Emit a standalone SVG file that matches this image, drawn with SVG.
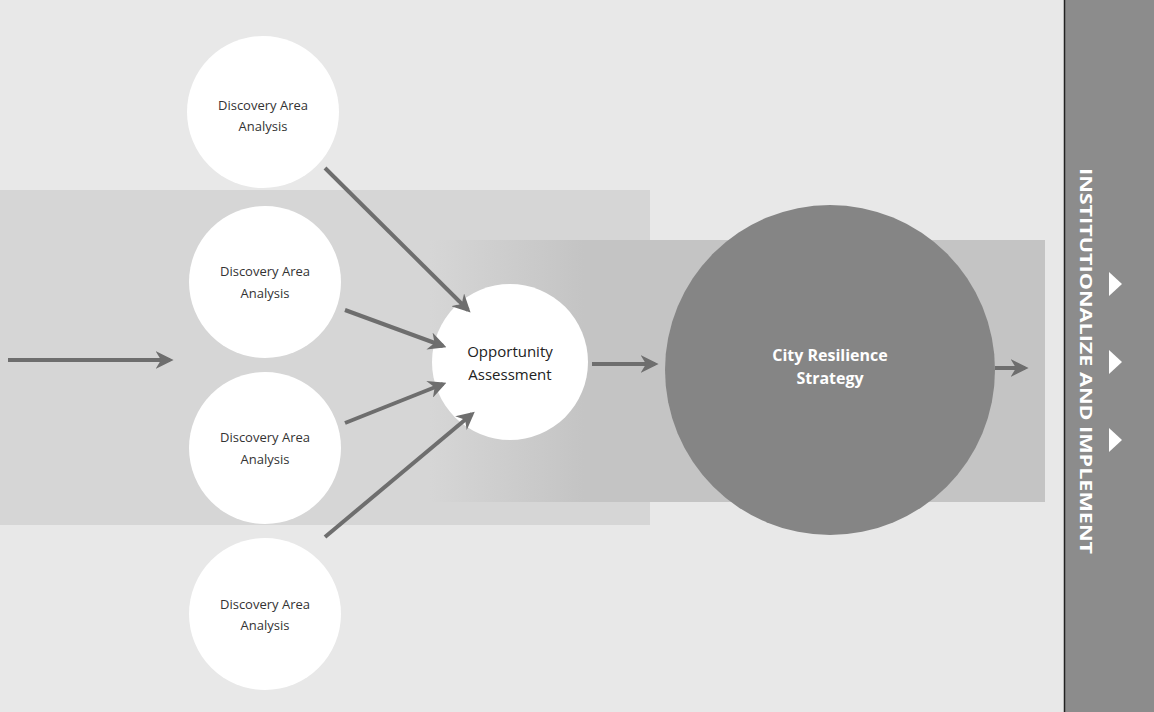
<svg xmlns="http://www.w3.org/2000/svg" width="1154" height="712" viewBox="0 0 1154 712">
<defs>
<style>
.disc{fill:#ffffff}
.dt{font-family:"Open Sans","Liberation Sans",sans-serif;font-size:13px;fill:#333;text-anchor:middle}
.ot{font-family:"Open Sans","Liberation Sans",sans-serif;font-size:15px;fill:#222;text-anchor:middle}
.ct{font-family:"Open Sans","Liberation Sans",sans-serif;font-size:16px;font-weight:bold;fill:#fff;text-anchor:middle}
.conn{stroke:#6e6e6e;stroke-width:4;fill:none;marker-end:url(#ah)}
</style>
<marker id="ah" viewBox="0 0 10 10" refX="8" refY="5" markerWidth="4.5" markerHeight="4.5" orient="auto" markerUnits="strokeWidth">
<path d="M0,0 L10,5 L0,10 L3,5 z" fill="#6e6e6e"/>
</marker>
<linearGradient id="band2" x1="0" x2="1" y1="0" y2="0">
<stop offset="0" stop-color="#c4c4c4" stop-opacity="0"/>
<stop offset="0.25" stop-color="#c4c4c4"/>
<stop offset="1" stop-color="#c4c4c4"/>
</linearGradient>
</defs>
<rect x="0" y="0" width="1154" height="712" fill="#e8e8e8"/>
<rect x="0" y="190" width="650" height="335" fill="#d6d6d6"/>
<rect x="430" y="240" width="615" height="262" fill="url(#band2)"/>
<g id="right-bar">
<rect x="1064" y="0" width="90" height="712" fill="#8c8c8c"/>
<line x1="1064.5" y1="0" x2="1064.5" y2="712" stroke="#222" stroke-width="1.5"/>
<text transform="translate(1080,168) rotate(90)" x="0" y="0" font-family="'Open Sans','Liberation Sans',sans-serif" font-size="16" font-weight="bold" fill="#fff" textLength="386" lengthAdjust="spacingAndGlyphs">INSTITUTIONALIZE AND IMPLEMENT</text>
<path d="M1109,272 L1122,284 L1109,296 z" fill="#fff"/>
<path d="M1109,350 L1122,362 L1109,374 z" fill="#fff"/>
<path d="M1109,428 L1122,440 L1109,452 z" fill="#fff"/>
</g>
<g id="discovery-1">
<circle class="disc" cx="263" cy="112" r="76"/>
<text class="dt" x="263" y="110">Discovery Area</text>
<text class="dt" x="263" y="131">Analysis</text>
</g>
<g id="discovery-2">
<circle class="disc" cx="265" cy="282" r="76"/>
<text class="dt" x="265" y="276">Discovery Area</text>
<text class="dt" x="265" y="298">Analysis</text>
</g>
<g id="discovery-3">
<circle class="disc" cx="265" cy="448" r="76"/>
<text class="dt" x="265" y="442">Discovery Area</text>
<text class="dt" x="265" y="464">Analysis</text>
</g>
<g id="discovery-4">
<circle class="disc" cx="265" cy="614" r="76"/>
<text class="dt" x="265" y="609">Discovery Area</text>
<text class="dt" x="265" y="630">Analysis</text>
</g>
<g id="opportunity">
<circle class="disc" cx="510" cy="362" r="78"/>
<text class="ot" x="510" y="357">Opportunity</text>
<text class="ot" x="510" y="380">Assessment</text>
</g>
<g id="city-strategy">
<circle cx="830" cy="370" r="165" fill="#858585"/>
<text class="ct" x="830" y="361">City Resilience</text>
<text class="ct" x="830" y="384">Strategy</text>
</g>
<g id="connectors">
<line class="conn" x1="8" y1="360" x2="170" y2="360"/>
<line class="conn" x1="325" y1="168" x2="468" y2="310"/>
<line class="conn" x1="345" y1="310" x2="443" y2="346"/>
<line class="conn" x1="345" y1="423" x2="443" y2="384"/>
<line class="conn" x1="325" y1="537" x2="472" y2="414"/>
<line class="conn" x1="592" y1="364" x2="655" y2="364"/>
<line class="conn" x1="995" y1="368" x2="1025" y2="368"/>
</g>
</svg>
